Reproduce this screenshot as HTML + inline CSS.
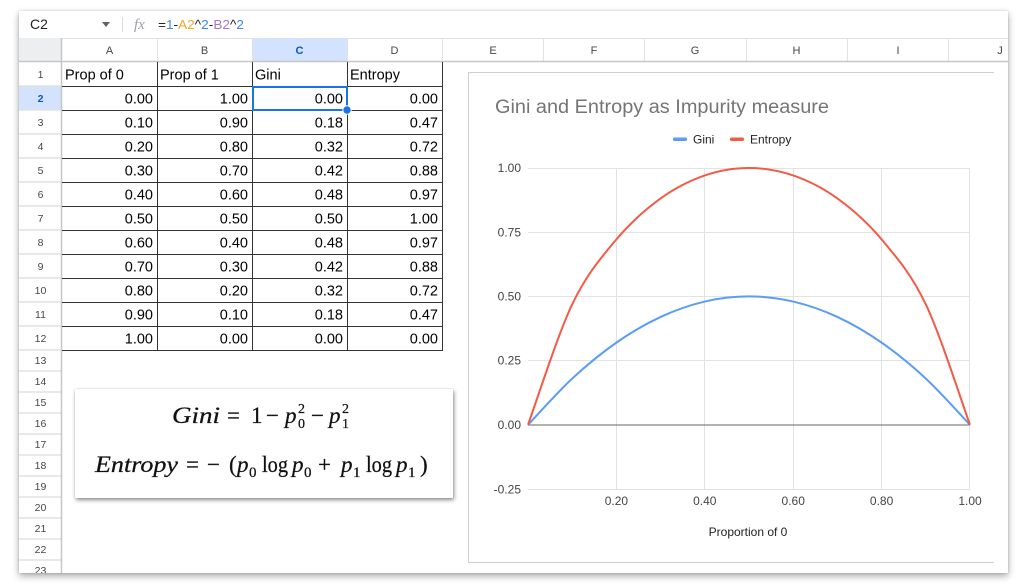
<!DOCTYPE html>
<html><head><meta charset="utf-8"><style>
html,body{margin:0;padding:0;background:#fff;}
body{width:1024px;height:588px;position:relative;overflow:hidden;font-family:"Liberation Sans",Arial,sans-serif;}
#win{position:absolute;left:19px;top:11px;width:989px;height:562px;background:#fff;box-shadow:0 3px 7px rgba(0,0,0,0.35),0 0 2px rgba(0,0,0,0.15);}
#eq{position:absolute;left:75px;top:389px;width:378px;height:109px;background:#fff;box-shadow:1px 2px 4px rgba(0,0,0,0.45),0 0 1px rgba(0,0,0,0.2);}
svg{position:absolute;left:0;top:0;}
</style></head><body>
<div id="win"></div>
<svg width="1024" height="588" viewBox="0 0 1024 588" xmlns="http://www.w3.org/2000/svg" font-family="Liberation Sans, Arial, sans-serif">
<defs><clipPath id="wc"><rect x="19" y="11" width="989" height="562"/></clipPath></defs>
<g clip-path="url(#wc)">
<text x="30" y="29" font-size="14" fill="#202124">C2</text>
<polygon points="102,22 110,22 106,27" fill="#5f6368"/>
<line x1="122.5" y1="17" x2="122.5" y2="32" stroke="#dadce0"/>
<text x="134" y="29" font-size="15" font-style="italic" font-family="Liberation Serif, serif" fill="#9aa0a6">fx</text>
<text x="158" y="29" font-size="13" textLength="86" lengthAdjust="spacingAndGlyphs"><tspan fill="#202124">=</tspan><tspan fill="#4285f4">1</tspan><tspan fill="#202124">-</tspan><tspan fill="#f4a62a">A2</tspan><tspan fill="#202124">^</tspan><tspan fill="#4285f4">2</tspan><tspan fill="#202124">-</tspan><tspan fill="#a779c9">B2</tspan><tspan fill="#202124">^</tspan><tspan fill="#4285f4">2</tspan></text>
<line x1="19" y1="38.5" x2="1008" y2="38.5" stroke="#e0e0e0"/>
<rect x="19" y="38" width="43" height="24" fill="#eceef0"/>
<rect x="252" y="38" width="95" height="24" fill="#d3e3fd"/>
<g stroke="#e1e3e1">
<line x1="157.5" y1="38" x2="157.5" y2="62"/><line x1="252.5" y1="38" x2="252.5" y2="62"/><line x1="347.5" y1="38" x2="347.5" y2="62"/><line x1="442.5" y1="38" x2="442.5" y2="62"/><line x1="543.5" y1="38" x2="543.5" y2="62"/><line x1="644.5" y1="38" x2="644.5" y2="62"/><line x1="746.5" y1="38" x2="746.5" y2="62"/><line x1="847.5" y1="38" x2="847.5" y2="62"/><line x1="948.5" y1="38" x2="948.5" y2="62"/>
</g>
<g font-size="11" fill="#444746" text-anchor="middle">
<text x="109.5" y="54">A</text><text x="204.5" y="54">B</text><text x="299.5" y="54" font-weight="bold" fill="#0b57d0">C</text><text x="394.5" y="54">D</text><text x="493" y="54">E</text><text x="594" y="54">F</text><text x="695" y="54">G</text><text x="796.5" y="54">H</text><text x="898" y="54">I</text><text x="1000" y="54">J</text>
</g>
<rect x="19" y="86" width="43" height="24" fill="#d3e3fd"/>
<g stroke="#e1e3e1" stroke-width="1.5">
<line x1="19" y1="86" x2="61" y2="86"/><line x1="19" y1="110" x2="61" y2="110"/><line x1="19" y1="134" x2="61" y2="134"/><line x1="19" y1="158" x2="61" y2="158"/><line x1="19" y1="182" x2="61" y2="182"/><line x1="19" y1="206" x2="61" y2="206"/><line x1="19" y1="230" x2="61" y2="230"/><line x1="19" y1="254" x2="61" y2="254"/><line x1="19" y1="278" x2="61" y2="278"/><line x1="19" y1="302" x2="61" y2="302"/><line x1="19" y1="326" x2="61" y2="326"/><line x1="19" y1="350" x2="61" y2="350"/><line x1="19" y1="371" x2="61" y2="371"/><line x1="19" y1="392" x2="61" y2="392"/><line x1="19" y1="413" x2="61" y2="413"/><line x1="19" y1="434" x2="61" y2="434"/><line x1="19" y1="455" x2="61" y2="455"/><line x1="19" y1="476" x2="61" y2="476"/><line x1="19" y1="497" x2="61" y2="497"/><line x1="19" y1="518" x2="61" y2="518"/><line x1="19" y1="539" x2="61" y2="539"/><line x1="19" y1="560" x2="61" y2="560"/>
</g>
<line x1="61.5" y1="38" x2="61.5" y2="573" stroke="#c4c7c5" stroke-width="1.5"/>
<line x1="19" y1="61.5" x2="1008" y2="61.5" stroke="#c4c7c5" stroke-width="1.5"/>
<g font-size="10.5" fill="#444746" text-anchor="middle">
<text x="40.5" y="78">1</text><text x="40.5" y="102" font-weight="bold" fill="#0b57d0">2</text><text x="40.5" y="126">3</text><text x="40.5" y="150">4</text><text x="40.5" y="174">5</text><text x="40.5" y="198">6</text><text x="40.5" y="222">7</text><text x="40.5" y="246">8</text><text x="40.5" y="270">9</text><text x="40.5" y="294">10</text><text x="40.5" y="318">11</text><text x="40.5" y="342">12</text>
<text x="40.5" y="364">13</text><text x="40.5" y="385">14</text><text x="40.5" y="406">15</text><text x="40.5" y="427">16</text><text x="40.5" y="448">17</text><text x="40.5" y="469">18</text><text x="40.5" y="490">19</text><text x="40.5" y="511">20</text><text x="40.5" y="532">21</text><text x="40.5" y="553">22</text><text x="40.5" y="574">23</text>
</g>
<g stroke="#333" stroke-width="1">
<line x1="62" y1="86.5" x2="443" y2="86.5"/><line x1="62" y1="110.5" x2="443" y2="110.5"/><line x1="62" y1="134.5" x2="443" y2="134.5"/><line x1="62" y1="158.5" x2="443" y2="158.5"/><line x1="62" y1="182.5" x2="443" y2="182.5"/><line x1="62" y1="206.5" x2="443" y2="206.5"/><line x1="62" y1="230.5" x2="443" y2="230.5"/><line x1="62" y1="254.5" x2="443" y2="254.5"/><line x1="62" y1="278.5" x2="443" y2="278.5"/><line x1="62" y1="302.5" x2="443" y2="302.5"/><line x1="62" y1="326.5" x2="443" y2="326.5"/><line x1="62" y1="350.5" x2="443" y2="350.5"/>
<line x1="157.5" y1="62" x2="157.5" y2="351"/><line x1="252.5" y1="62" x2="252.5" y2="351"/><line x1="347.5" y1="62" x2="347.5" y2="351"/><line x1="442.5" y1="62" x2="442.5" y2="351"/>
</g>
<g font-size="14.5" fill="#000">
<text x="65" y="79.5">Prop of 0</text><text x="160" y="79.5">Prop of 1</text><text x="255" y="79.5">Gini</text><text x="350" y="79.5">Entropy</text>
</g>
<g font-size="14.5" fill="#000" text-anchor="end">
<text x="153" y="103.5">0.00</text><text x="248" y="103.5">1.00</text><text x="343" y="103.5">0.00</text><text x="438" y="103.5">0.00</text>
<text x="153" y="127.5">0.10</text><text x="248" y="127.5">0.90</text><text x="343" y="127.5">0.18</text><text x="438" y="127.5">0.47</text>
<text x="153" y="151.5">0.20</text><text x="248" y="151.5">0.80</text><text x="343" y="151.5">0.32</text><text x="438" y="151.5">0.72</text>
<text x="153" y="175.5">0.30</text><text x="248" y="175.5">0.70</text><text x="343" y="175.5">0.42</text><text x="438" y="175.5">0.88</text>
<text x="153" y="199.5">0.40</text><text x="248" y="199.5">0.60</text><text x="343" y="199.5">0.48</text><text x="438" y="199.5">0.97</text>
<text x="153" y="223.5">0.50</text><text x="248" y="223.5">0.50</text><text x="343" y="223.5">0.50</text><text x="438" y="223.5">1.00</text>
<text x="153" y="247.5">0.60</text><text x="248" y="247.5">0.40</text><text x="343" y="247.5">0.48</text><text x="438" y="247.5">0.97</text>
<text x="153" y="271.5">0.70</text><text x="248" y="271.5">0.30</text><text x="343" y="271.5">0.42</text><text x="438" y="271.5">0.88</text>
<text x="153" y="295.5">0.80</text><text x="248" y="295.5">0.20</text><text x="343" y="295.5">0.32</text><text x="438" y="295.5">0.72</text>
<text x="153" y="319.5">0.90</text><text x="248" y="319.5">0.10</text><text x="343" y="319.5">0.18</text><text x="438" y="319.5">0.47</text>
<text x="153" y="343.5">1.00</text><text x="248" y="343.5">0.00</text><text x="343" y="343.5">0.00</text><text x="438" y="343.5">0.00</text>
</g>
<rect x="253" y="87" width="94" height="23" fill="none" stroke="#1a73e8" stroke-width="2"/>
<circle cx="347" cy="110" r="4.2" fill="#1a73e8" stroke="#fff" stroke-width="1"/>
<rect x="468" y="72" width="540" height="491" fill="#fff"/>
<g stroke="#cfcfcf" stroke-width="1">
<line x1="468" y1="72.5" x2="994" y2="72.5"/><line x1="468.5" y1="72" x2="468.5" y2="563"/><line x1="468" y1="562.5" x2="994" y2="562.5"/>
</g>
<text x="495" y="113" font-size="19" fill="#757575" textLength="334" lengthAdjust="spacingAndGlyphs">Gini and Entropy as Impurity measure</text>
<rect x="673" y="137.5" width="14" height="3.5" rx="1.5" fill="#5b9cf6"/>
<text x="693" y="143.5" font-size="12" fill="#222">Gini</text>
<rect x="730" y="137.5" width="14" height="3.5" rx="1.5" fill="#f25b47"/>
<text x="750" y="143.5" font-size="12" fill="#222">Entropy</text>
<g stroke="#e2e2e2" stroke-width="1">
<line x1="528" y1="168.5" x2="970" y2="168.5"/><line x1="528" y1="232.5" x2="970" y2="232.5"/><line x1="528" y1="296.5" x2="970" y2="296.5"/><line x1="528" y1="360.5" x2="970" y2="360.5"/><line x1="528" y1="489.5" x2="970" y2="489.5"/>
<line x1="616.5" y1="168" x2="616.5" y2="489"/><line x1="704.5" y1="168" x2="704.5" y2="489"/><line x1="793.5" y1="168" x2="793.5" y2="489"/><line x1="881.5" y1="168" x2="881.5" y2="489"/><line x1="969.5" y1="168" x2="969.5" y2="489"/>
</g>
<line x1="528" y1="425" x2="970" y2="425" stroke="#666" stroke-width="1"/>
<g font-size="12" fill="#444" text-anchor="end">
<text x="521" y="172">1.00</text><text x="521" y="236.5">0.75</text><text x="521" y="300.5">0.50</text><text x="521" y="364.5">0.25</text><text x="521" y="429">0.00</text><text x="521" y="493.5">-0.25</text>
</g>
<g font-size="12" fill="#444" text-anchor="middle">
<text x="616.4" y="505">0.20</text><text x="704.8" y="505">0.40</text><text x="793.2" y="505">0.60</text><text x="881.6" y="505">0.80</text><text x="970" y="505">1.00</text>
<text x="748" y="536" fill="#222">Proportion of 0</text>
</g>
<path fill="none" stroke="#5b9cf6" stroke-width="2" stroke-linejoin="round" d="M528,424.8 C535.37,417.10 557.47,392.28 572.2,378.58 C586.93,364.88 601.67,352.89 616.4,342.62 C631.13,332.35 645.87,323.79 660.6,316.94 C675.33,310.09 690.07,304.96 704.8,301.54 C719.53,298.12 734.27,296.4 749,296.4 C763.73,296.4 778.47,298.12 793.2,301.54 C807.93,304.96 822.67,310.09 837.4,316.94 C852.13,323.79 866.87,332.35 881.6,342.62 C896.33,352.89 911.07,364.88 925.8,378.58 C940.53,392.28 962.63,417.10 970,424.8"/>
<path fill="none" stroke="#f25b47" stroke-width="2" stroke-linejoin="round" d="M528,424.8 C535.37,404.73 557.47,335.26 572.2,304.36 C586.93,273.46 601.67,257.07 616.4,239.42 C631.13,221.77 645.87,209.14 660.6,198.48 C675.33,187.82 690.07,180.53 704.8,175.45 C719.53,170.37 734.27,168 749,168 C763.73,168 778.47,170.37 793.2,175.45 C807.93,180.53 822.67,187.82 837.4,198.48 C852.13,209.14 866.87,221.77 881.6,239.42 C896.33,257.07 911.07,273.46 925.8,304.36 C940.53,335.26 962.63,404.73 970,424.8"/>
</g>
</svg>
<div id="eq"></div>
<svg width="1024" height="588" viewBox="0 0 1024 588" xmlns="http://www.w3.org/2000/svg" font-family="Liberation Serif, 'Times New Roman', serif" fill="#111" stroke="#111" stroke-width="0.25">
<text x="172" y="423" font-size="23" font-style="italic" textLength="48" lengthAdjust="spacingAndGlyphs">Gini</text>
<text x="227" y="423" font-size="23">=</text>
<text x="251" y="423" font-size="23">1</text>
<text x="266" y="423" font-size="23">−</text>
<text x="285" y="423" font-size="23" font-style="italic">p</text>
<text x="298" y="413" font-size="14">2</text>
<text x="298" y="428" font-size="14">0</text>
<text x="311" y="423" font-size="23">−</text>
<text x="329" y="423" font-size="23" font-style="italic">p</text>
<text x="342" y="413" font-size="14">2</text>
<text x="342" y="428" font-size="14">1</text>

<text x="95" y="472" font-size="23" font-style="italic" textLength="83" lengthAdjust="spacingAndGlyphs">Entropy</text>
<text x="186" y="472" font-size="23">=</text>
<text x="207" y="472" font-size="23">−</text>
<text x="229" y="472" font-size="23">(</text>
<text x="237" y="472" font-size="23" font-style="italic">p</text>
<text x="249" y="477" font-size="15">0</text>
<text x="262" y="472" font-size="23" textLength="26" lengthAdjust="spacingAndGlyphs">log</text>
<text x="292" y="472" font-size="23" font-style="italic">p</text>
<text x="304" y="477" font-size="15">0</text>
<text x="318" y="472" font-size="23">+</text>
<text x="341" y="472" font-size="23" font-style="italic">p</text>
<text x="353" y="477" font-size="15">1</text>
<text x="366" y="472" font-size="23" textLength="26" lengthAdjust="spacingAndGlyphs">log</text>
<text x="396" y="472" font-size="23" font-style="italic">p</text>
<text x="408" y="477" font-size="15">1</text>
<text x="420" y="472" font-size="23">)</text>
</svg>
</body></html>
